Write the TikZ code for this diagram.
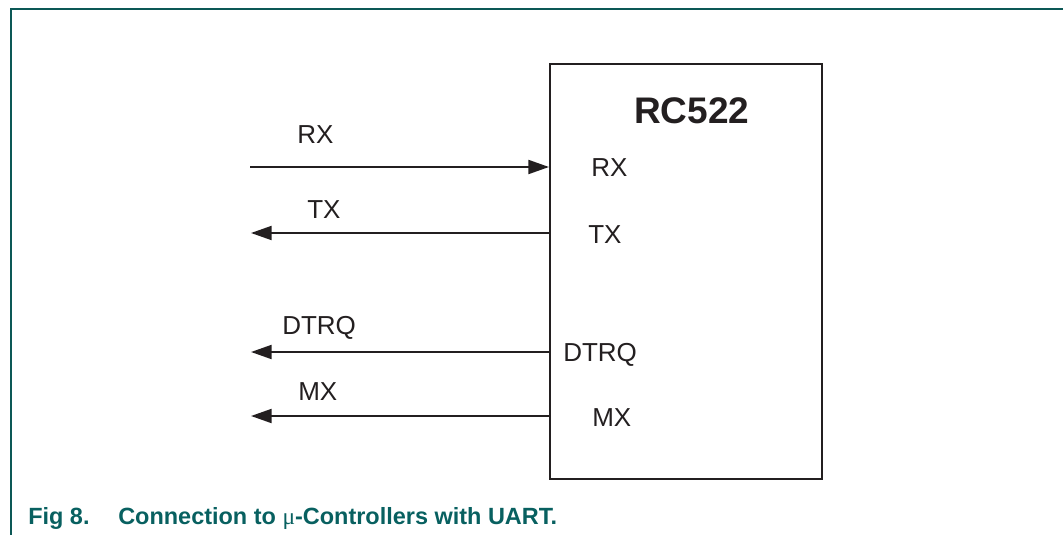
\documentclass[tikz,border=0pt]{standalone}
\usepackage{fontspec}
\setmainfont{Liberation Sans}
\newfontfamily\musymbolfont{Liberation Serif}
\usetikzlibrary{arrows.meta}
\definecolor{ink}{HTML}{231F20}
\definecolor{nxpteal}{RGB}{8,96,96}
\definecolor{framecol}{RGB}{12,88,86}
\tikzset{
  pin/.style={font=\fontsize{19.5pt}{22pt}\selectfont, text=ink, inner sep=0pt, anchor=base west},
  sig/.style={draw=ink, line width=1.5pt},
  tip/.style={-{Triangle[length=15.5pt,width=10.5pt]}},
  chip/.style={draw=ink, line width=1.5pt, rectangle, minimum width=204pt, minimum height=311.25pt, inner sep=0pt},
  captext/.style={font=\bfseries\fontsize{17.6pt}{20pt}\selectfont, text=nxpteal, inner sep=0pt, anchor=base west},
}
\begin{document}
\begin{tikzpicture}[x=0.75pt,y=-0.75pt]
\useasboundingbox (0,0) rectangle (1063,535);
% frame
\draw[framecol, line width=1.5pt] (10,9) -- (1063,9);
\draw[framecol, line width=1.5pt] (11,9) -- (11,535);
% chip
\node[chip] (box) at (686,271.5) {};
\node[font=\bfseries\fontsize{27.75pt}{30pt}\selectfont, text=ink, inner sep=0pt, anchor=base west] (title) at (634,123) {RC522};
% inner pin labels
\node[pin] (pRX) at (591,176) {RX};
\node[pin] (pTX) at (588,243) {TX};
\node[pin] (pDT) at (563,361) {DTRQ};
\node[pin] (pMX) at (592,426) {MX};
% outer signal labels
\node[pin] (lRX) at (297,143) {RX};
\node[pin] (lTX) at (307,218) {TX};
\node[pin] (lDT) at (282,334) {DTRQ};
\node[pin] (lMX) at (298,400) {MX};
% free ends
\coordinate (eRX) at (250,167);
\coordinate (eTX) at (251,233);
\coordinate (eDT) at (251,352);
\coordinate (eMX) at (251,416);
% connectors
\draw[sig, tip] (eRX) -- (box.west |- eRX);
\draw[sig, tip] (box.west |- eTX) -- (eTX);
\draw[sig, tip] (box.west |- eDT) -- (eDT);
\draw[sig, tip] (box.west |- eMX) -- (eMX);
% caption
\node[captext] (capnum) at (28,524) {Fig 8.};
\node[captext] (cap) at (118,524) {Connection to {\musymbolfont\mdseries μ}-Controllers with UART.};
\end{tikzpicture}
\end{document}
